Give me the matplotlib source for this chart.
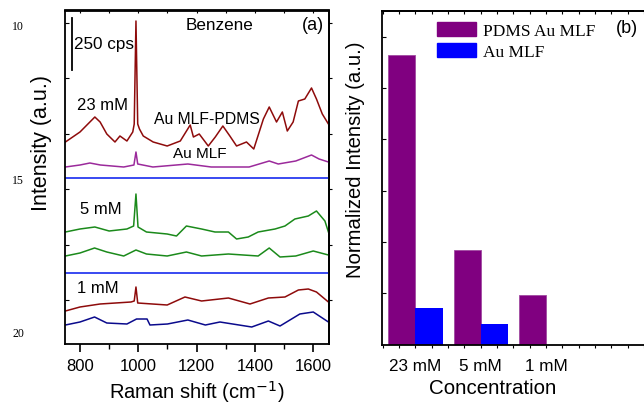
import matplotlib
matplotlib.use("Agg")
import matplotlib.pyplot as plt
from matplotlib.patches import Patch
import numpy as np

# ---------------- data: panel (a) Raman spectra (offset, arbitrary units) -------------
x_23_pdms = [750, 800, 851, 869, 892, 920, 937, 961, 981, 986, 992, 998, 1004, 1017, 1051,
             1099, 1144, 1178, 1189, 1209, 1240, 1264, 1290, 1314, 1337, 1371, 1396, 1429,
             1449, 1474, 1494, 1511, 1531, 1549, 1571, 1594, 1611, 1631, 1652]
y_23_pdms = [202, 212, 227, 222, 210, 202, 208, 203, 212, 220, 323, 220, 215, 208, 202,
             198, 203, 219, 207, 210, 198, 207, 218, 208, 198, 202, 195, 225,
             237, 222, 232, 213, 222, 243, 245, 256, 245, 230, 220]

x_23_mlf = [750, 800, 834, 870, 950, 985, 992, 998, 1050, 1170, 1250, 1380, 1449, 1480,
            1540, 1594, 1620, 1652]
y_23_mlf = [177, 179, 181, 179, 177, 179, 192, 180, 177, 180, 177, 177, 183, 180,
            183, 189, 185, 182]

x_5_pdms = [750, 800, 851, 900, 961, 984, 992, 999, 1028, 1099, 1131, 1165, 1217, 1263,
            1309, 1337, 1377, 1411, 1469, 1503, 1537, 1583, 1611, 1640, 1652]
y_5_pdms = [112, 115, 117, 113, 115, 118, 150, 117, 112, 110, 108, 118, 115, 112,
            112, 105, 107, 112, 115, 118, 125, 128, 133, 123, 112]

x_5_mlf = [750, 800, 850, 892, 950, 992, 1028, 1099, 1165, 1217, 1309, 1411, 1449, 1486,
           1540, 1600, 1652]
y_5_mlf = [88, 91, 96, 92, 88, 94, 90, 88, 92, 88, 90, 88, 96, 87, 88, 93, 89]

x_1_pdms = [750, 800, 869, 975, 986, 992, 998, 1099, 1160, 1217, 1309, 1383, 1446, 1503,
            1549, 1583, 1611, 1652]
y_1_pdms = [33, 37, 40, 42, 43, 57, 41, 39, 47, 43, 46, 40, 46, 47, 54, 55, 52, 42]

x_1_mlf = [750, 800, 850, 892, 961, 994, 1030, 1040, 1100, 1170, 1230, 1280, 1389, 1446,
           1486, 1554, 1600, 1652]
y_1_mlf = [19, 22, 27, 21, 20, 25, 25, 19, 20, 24, 19, 22, 17, 23, 18, 30, 32, 22]

separators = [165.7, 71]          # blue horizontal separator lines
scale_bar = (274, 326)            # 250 cps scale bar

# ---------------- data: panel (b) normalized intensities ----------------
concentrations = ["23 mM", "5 mM", "1 mM"]
pdms_au_mlf = [5.65, 1.85, 0.96]
au_mlf = [0.71, 0.39, 0.0]

# ---------------- figure ----------------
W, H = 644, 406
fig = plt.figure(figsize=(W / 100, H / 100), dpi=100)
plt.rcParams['font.family'] = ['Liberation Sans', 'DejaVu Sans']

def fx(px):
    return px / W

def fy(py):
    return 1 - py / H

# left axes: x 65.4 .. 329, y 11.5 .. 345
axA = fig.add_axes([fx(65.4), fy(345), fx(329) - fx(65.4), fy(11.5) - fy(345)])
axA.set_xlim(750, 1654)
axA.set_ylim(0, 333.5)

red = '#8e0b0b'
purple = '#9b2a9b'
green = '#1b8a1b'
navy = '#0a0a8c'
lw = 1.1
axA.plot(x_23_pdms, y_23_pdms, color=red, lw=lw)
axA.plot(x_23_mlf, y_23_mlf, color=purple, lw=lw)
axA.plot(x_5_pdms, y_5_pdms, color=green, lw=lw)
axA.plot(x_5_mlf, y_5_mlf, color=green, lw=lw)
axA.plot(x_1_pdms, y_1_pdms, color=red, lw=lw)
axA.plot(x_1_mlf, y_1_mlf, color=navy, lw=lw)
for s in separators:
    axA.axhline(s, color='#2a3af0', lw=1.3)
axA.plot([772.6, 772.6], scale_bar, color='black', lw=1.3)

axA.text(1280, 319, "Benzene", fontsize=12.3, ha='center', va='center')
axA.text(1599, 319, "(a)", fontsize=13, ha='center', va='center')
axA.text(778, 300, "250 cps", fontsize=12.3, ha='left', va='center')
axA.text(790, 240, "23 mM", fontsize=12, ha='left', va='center')
axA.text(1053, 226, "Au MLF-PDMS", fontsize=11.3, ha='left', va='center')
axA.text(1119, 191, "Au MLF", fontsize=11, ha='left', va='center')
axA.text(800, 136, "5 mM", fontsize=12, ha='left', va='center')
axA.text(789, 56.5, "1 mM", fontsize=12, ha='left', va='center')

axA.set_xticks([800, 1000, 1200, 1400, 1600])
axA.set_xticks(np.arange(800, 1700, 100), minor=True)
axA.tick_params(axis='x', which='major', direction='out', length=6, width=1.2,
                labelsize=12, pad=4, top=False)
axA.tick_params(axis='x', which='minor', direction='out', length=3.5, width=1.0, top=False)
axA.set_yticks(np.arange(44, 333, 55.5))
axA.tick_params(axis='y', which='major', direction='in', length=3, width=0.8,
                labelleft=False, right=False)
secA_top = axA.secondary_xaxis('top')
secA_top.set_xticks(np.arange(800, 1700, 100))
secA_top.tick_params(direction='in', length=2, width=0.8, labeltop=False)
secA_right = axA.secondary_yaxis('right')
secA_right.set_yticks(np.arange(44, 333, 55.5))
secA_right.tick_params(direction='out', length=2.5, width=0.8, labelright=False)
for sp in list(axA.spines.values()) + [secA_top.spines['top'], secA_right.spines['right']]:
    sp.set_linewidth(1.3)

axA.set_xlabel("Raman shift (cm$^{-1}$)", fontsize=14.5)
axA.xaxis.set_label_coords((197 - 65.4) / (329 - 65.4), (345 - 392) / 333.5)
axA.xaxis.label.set_va('center')
axA.set_ylabel("Intensity (a.u.)", fontsize=15.5)
axA.yaxis.set_label_coords((42 - 65.4) / (329 - 65.4), (345 - 143) / 333.5)
axA.yaxis.label.set_va('center')

# stray margin numbers
for t, py in [("10", 27), ("15", 181), ("20", 334)]:
    fig.text(fx(18), fy(py), t, family=['Liberation Serif', 'DejaVu Serif'],
             fontsize=8.5, ha='center', va='center')

# right axes: x 381.7 .. 644 (right edge), y 12 .. 345.5
axB = fig.add_axes([fx(381.7), fy(345.5), 1.0 - fx(381.7), fy(12) - fy(345.5)])
xlo = (381.7 - 415.7) / 65.7
xhi = (644 - 415.7) / 65.7
axB.set_xlim(xlo, xhi)
axB.set_ylim(0, 6.5)
pos = np.arange(len(concentrations))
bw = 0.417
axB.bar(pos - bw / 2, pdms_au_mlf, width=bw, color='#800080', edgecolor='#a04aa0',
        linewidth=0.6, label='PDMS Au MLF')
axB.bar(pos + bw / 2, au_mlf, width=bw, color='#0000ff', edgecolor='#0000ff',
        linewidth=0.0, label='Au MLF')
axB.spines['right'].set_visible(False)
for sp in axB.spines.values():
    sp.set_linewidth(1.3)
axB.set_xticks(pos, concentrations)
axB.set_xticks(np.arange(-0.5, 3.6, 0.25), minor=True)
axB.tick_params(axis='x', which='both', direction='out', length=2, width=0.8,
                labelsize=12.3, pad=8, top=False)
axB.set_yticks(np.arange(1, 7, 1))
axB.tick_params(axis='y', direction='in', length=3, width=0.8, labelleft=False,
                right=False)
secB_top = axB.secondary_xaxis('top')
secB_top.set_xticks(np.arange(-0.5, 3.6, 0.25))
secB_top.tick_params(direction='in', length=2, width=0.8, labeltop=False)
secB_top.spines['top'].set_linewidth(1.3)

axB.set_xlabel("Concentration", fontsize=14.8)
axB.xaxis.set_label_coords((492.5 - 381.7) / (644 - 381.7), (345.5 - 389) / 333.5)
axB.xaxis.label.set_va('center')
axB.set_ylabel("Normalized Intensity (a.u.)", fontsize=14.6)
axB.yaxis.set_label_coords((355 - 381.7) / (644 - 381.7), (345.5 - 160) / 333.5)
axB.yaxis.label.set_va('center')

handles = [Patch(facecolor='#800080', edgecolor='#800080'),
           Patch(facecolor='#0000ff', edgecolor='#0000ff')]
leg = axB.legend(handles, ['PDMS Au MLF', 'Au MLF'],
                 prop={'family': ['Liberation Serif', 'DejaVu Serif'], 'size': 12.5},
                 frameon=False, loc='upper left',
                 bbox_to_anchor=((436.7 - 381.7) / (644 - 381.7), (345.5 - 23) / 333.5),
                 borderpad=0, borderaxespad=0, handlelength=2.25, handleheight=0.85,
                 handletextpad=0.4, labelspacing=0.25)
axB.text((627 - 381.7) / (644 - 381.7), (345.5 - 29) / 333.5, "(b)", fontsize=13,
         ha='center', va='center', transform=axB.transAxes)

fig.savefig("out.png", dpi=100)
